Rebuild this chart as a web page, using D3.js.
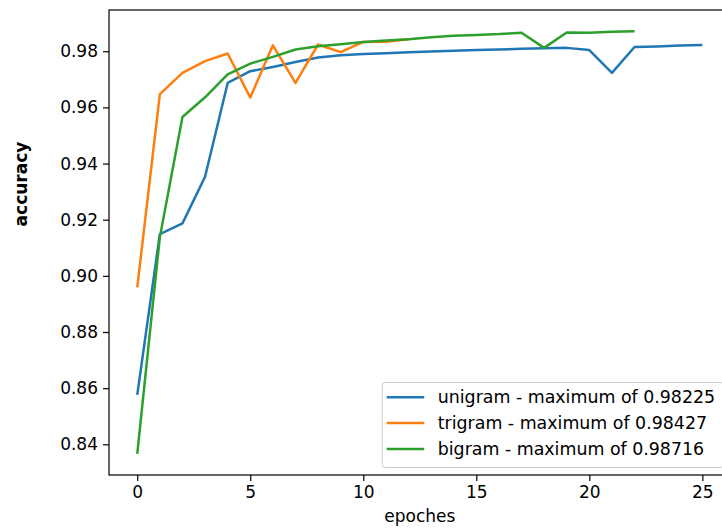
<!DOCTYPE html>
<html>
<head>
<meta charset="utf-8">
<script src="https://cdn.jsdelivr.net/npm/d3@7"></script>
<style>
  body { margin: 0; background: #fff; }
  svg { display: block; font-family: "DejaVu Sans", sans-serif; }
</style>
</head>
<body>
<div id="chart"></div>
<script>
const width = 722,
  height = 528;

// values
const unigram = [0.8576, 0.9149, 0.9187, 0.9353, 0.9687, 0.9729, 0.9744, 0.9762, 0.9778, 0.9786,
  0.9790, 0.9793, 0.9796, 0.9799, 0.9802, 0.9804, 0.9806, 0.9809, 0.9811, 0.9812,
  0.9804, 0.9723, 0.9815, 0.9817, 0.9820, 0.98225];
const trigram = [0.8959, 0.9647, 0.9723, 0.9765, 0.9792, 0.9635, 0.9821, 0.9687, 0.9824, 0.9797,
  0.9833, 0.9834, 0.98427];
const bigram = [0.8366, 0.9138, 0.9566, 0.9636, 0.9718, 0.9756, 0.9780, 0.9806, 0.9818, 0.9825,
  0.9833, 0.9838, 0.9843, 0.9850, 0.9855, 0.9858, 0.9861, 0.9866, 0.9812, 0.9867,
  0.9866, 0.9869, 0.98716];
const seriesNames = ["unigram", "trigram", "bigram"];
const seriesColors = ["#1f77b4", "#ff7f0e", "#2ca02c"];
const xTicks = [0, 5, 10, 15, 20, 25];
const yTicks = [0.84, 0.86, 0.88, 0.90, 0.92, 0.94, 0.96, 0.98];

const series = [unigram, trigram, bigram];

// plot box, the right edge runs off the picture like in the original
const plotLeft = 109, plotRight = 730.6, plotTop = 10, plotBottom = 475;

const svg = d3.select("#chart").append("svg")
  .attr("width", width)
  .attr("height", height);

// matplotlib style 5% margins
const allVals = series.flat();
const yMin = d3.min(allVals), yMax = d3.max(allVals);
const yPad = (yMax - yMin) * 0.05;
const xScale = d3.scaleLinear().domain([-1.25, 26.25]).range([plotLeft, plotRight]);
const yScale = d3.scaleLinear().domain([yMin - yPad, yMax + yPad]).range([plotBottom, plotTop]);

const line = d3.line()
  .x((d, i) => xScale(i))
  .y(d => yScale(d));

svg.append("g")
  .selectAll("path")
  .data(series)
  .join("path")
  .attr("d", d => line(d))
  .attr("fill", "none")
  .attr("stroke", (d, i) => seriesColors[i])
  .attr("stroke-width", 2.5)
  .attr("stroke-linejoin", "round");

// axes
const xAxis = svg.append("g")
  .attr("transform", `translate(0,${plotBottom})`)
  .call(d3.axisBottom(xScale).tickValues(xTicks).tickSize(6).tickPadding(5).tickSizeOuter(0));
const yAxis = svg.append("g")
  .attr("transform", `translate(${plotLeft},0)`)
  .call(d3.axisLeft(yScale).tickValues(yTicks).tickFormat(d3.format(".2f")).tickSize(6).tickPadding(5).tickSizeOuter(0));

[xAxis, yAxis].forEach(ax => {
  ax.select(".domain").remove();
  ax.selectAll("line").attr("stroke", "#000").attr("stroke-width", 1.2);
  ax.selectAll("text").attr("fill", "#000").style("font-size", "17px").style("font-family", "DejaVu Sans");
});

// frame
svg.append("rect")
  .attr("x", plotLeft)
  .attr("y", plotTop)
  .attr("width", plotRight - plotLeft)
  .attr("height", plotBottom - plotTop)
  .attr("fill", "none")
  .attr("stroke", "#000")
  .attr("stroke-width", 1.2);

// axis titles
svg.append("text")
  .attr("x", (plotLeft + plotRight) / 2)
  .attr("y", 522)
  .attr("text-anchor", "middle")
  .style("font-size", "17px")
  .text("epoches");

svg.append("text")
  .attr("transform", "translate(27,184) rotate(-90)")
  .attr("text-anchor", "middle")
  .style("font-size", "17px")
  .style("font-weight", "bold")
  .text("accuracy");

// legend, lower right
const labels = series.map((s, i) => `${seriesNames[i]} - maximum of ${d3.max(s)}`);
const legend = svg.append("g");
const frame = legend.append("rect");
const rows = legend.selectAll("g")
  .data(labels)
  .join("g");
const texts = rows.append("text")
  .attr("dy", "0.35em")
  .style("font-size", "17.4px")
  .text(d => d);
const textW = d3.max(texts.nodes(), n => n.getComputedTextLength());
const boxW = 55.5 + textW + 8.5,
  boxH = 85;
const boxX = plotRight - 7 - boxW,
  boxY = plotBottom - 7.5 - boxH;
frame.attr("x", boxX).attr("y", boxY)
  .attr("width", boxW).attr("height", boxH)
  .attr("rx", 3)
  .attr("fill", "#fff").attr("fill-opacity", 0.8)
  .attr("stroke", "#cccccc").attr("stroke-width", 1);
rows.attr("transform", (d, i) => `translate(${boxX},${boxY + 14.7 + i * 25.9})`);
rows.append("line")
  .attr("x1", 4.5).attr("x2", 42)
  .attr("stroke", (d, i) => seriesColors[i])
  .attr("stroke-width", 2.5);
texts.attr("x", 55.5);
</script>
</body>
</html>
